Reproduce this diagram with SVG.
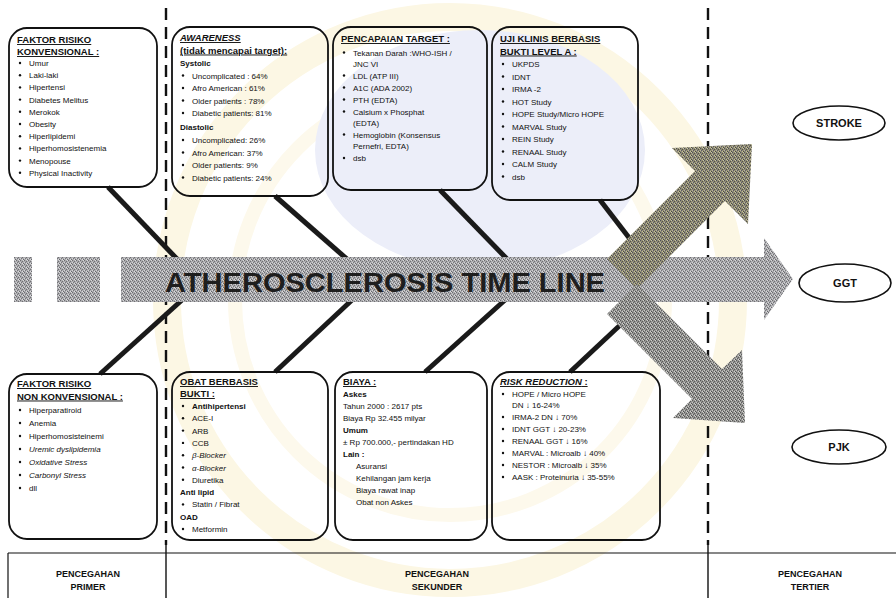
<svg xmlns="http://www.w3.org/2000/svg" width="896" height="598" viewBox="0 0 896 598">
<defs>
<style>
.t{font-family:"Liberation Sans",Arial,sans-serif;font-size:8px;fill:#111}
.h{font-family:"Liberation Sans",Arial,sans-serif;font-size:9.5px;font-weight:bold;fill:#111;text-decoration:underline}
.b{font-weight:bold}
.i{font-style:italic}
.box{fill:none;stroke:#111;stroke-width:1.8}
.fb{stroke:#1a1a1a;stroke-width:5;stroke-linecap:butt}
.dash{stroke:#111;stroke-width:2.4;stroke-dasharray:12 7}
.ell{fill:#fff;stroke:#111;stroke-width:1.6}
.et{font-family:"Liberation Sans",Arial,sans-serif;font-size:11px;font-weight:bold;fill:#111;text-anchor:middle}
.ft{font-family:"Liberation Sans",Arial,sans-serif;font-size:9px;font-weight:bold;fill:#111;text-anchor:middle}
</style>
<pattern id="dg" width="4" height="4" patternUnits="userSpaceOnUse">
<rect width="4" height="4" fill="#ababae"/>
<rect x="0" y="0" width="1" height="1" fill="#6c6c70"/>
<rect x="2" y="1" width="1" height="1" fill="#707074"/>
<rect x="1" y="2" width="1" height="1" fill="#76767a"/>
<rect x="3" y="3" width="1" height="1" fill="#6a6a6e"/>
<rect x="2" y="3" width="1" height="1" fill="#dcdcde"/>
<rect x="0" y="2" width="1" height="1" fill="#d4d4d6"/>
<rect x="3" y="0" width="1" height="1" fill="#d8d8da"/>
</pattern>
<pattern id="du" width="4" height="4" patternUnits="userSpaceOnUse">
<rect width="4" height="4" fill="#8e8b74"/>
<rect x="0" y="0" width="1" height="1" fill="#4e4e5a"/>
<rect x="2" y="1" width="1" height="1" fill="#545048"/>
<rect x="1" y="2" width="1" height="1" fill="#5a586a"/>
<rect x="3" y="3" width="1" height="1" fill="#4a4a44"/>
<rect x="2" y="3" width="1" height="1" fill="#c4bf98"/>
<rect x="0" y="2" width="1" height="1" fill="#bcb796"/>
<rect x="3" y="0" width="1" height="1" fill="#c8c4a4"/>
</pattern>
<pattern id="dd" width="4" height="4" patternUnits="userSpaceOnUse">
<rect width="4" height="4" fill="#959593"/>
<rect x="0" y="0" width="1" height="1" fill="#555555"/>
<rect x="2" y="1" width="1" height="1" fill="#5c5c5a"/>
<rect x="1" y="2" width="1" height="1" fill="#606060"/>
<rect x="3" y="3" width="1" height="1" fill="#525252"/>
<rect x="2" y="3" width="1" height="1" fill="#cfcfcc"/>
<rect x="0" y="2" width="1" height="1" fill="#c8c8c4"/>
<rect x="3" y="0" width="1" height="1" fill="#d0d0cc"/>
</pattern>
</defs>
<rect width="896" height="598" fill="#fff"/>
<g id="watermark">
<circle cx="450" cy="300" r="283" fill="none" stroke="#fcf7e4" stroke-width="28"/>
<circle cx="450" cy="300" r="215" fill="none" stroke="#fdf9ec" stroke-width="14"/>
<ellipse cx="480" cy="150" rx="165" ry="120" fill="#eceef9"/>
</g>
<g id="dividers">
<line class="dash" x1="166" y1="8" x2="166" y2="545"/>
<line class="dash" x1="708" y1="8" x2="708" y2="545"/>
</g>
<g id="connectors">
<line class="fb" x1="108" y1="187" x2="178" y2="260"/>
<line class="fb" x1="275" y1="196" x2="348" y2="260"/>
<line class="fb" x1="440" y1="190" x2="508" y2="260"/>
<line class="fb" x1="600" y1="200" x2="640" y2="252"/>
<line class="fb" x1="100" y1="374" x2="182" y2="300"/>
<line class="fb" x1="275" y1="372" x2="352" y2="300"/>
<line class="fb" x1="425" y1="372" x2="505" y2="300"/>
<line class="fb" x1="570" y1="372" x2="632" y2="314"/>
</g>
<g id="timeline">
<rect x="14" y="257" width="18" height="45" fill="url(#dg)"/>
<rect x="57" y="257" width="43" height="45" fill="url(#dg)"/>
<polygon points="121,257 764,257 764,238 793,279 764,320 764,302 121,302" fill="url(#dg)"/>
<text x="165" y="292" font-family="'Liberation Sans',Arial,sans-serif" font-size="27" font-weight="bold" fill="#1e1e1e" textLength="440" lengthAdjust="spacingAndGlyphs">ATHEROSCLEROSIS TIME LINE</text>
<polygon points="607,259 695,171 672,148 752,144 748,224 725,201 637,289" fill="url(#du)"/>
<polygon points="637,284 722,369 742,350 745,423 673,418 692,399 607,314" fill="url(#dd)"/>
</g>
<g id="box-faktor-konv">
<rect class="box" x="9" y="28" width="148" height="159" rx="18"/>
<text class="h" x="17" y="43">FAKTOR RISIKO</text>
<text class="h" x="17" y="55">KONVENSIONAL :</text>
<g class="t">
<circle cx="20" cy="63" r="1.2"/><text x="29" y="66">Umur</text>
<circle cx="20" cy="75.2" r="1.2"/><text x="29" y="78.2">Laki-laki</text>
<circle cx="20" cy="87.4" r="1.2"/><text x="29" y="90.4">Hipertensi</text>
<circle cx="20" cy="99.6" r="1.2"/><text x="29" y="102.6">Diabetes Melitus</text>
<circle cx="20" cy="111.8" r="1.2"/><text x="29" y="114.8">Merokok</text>
<circle cx="20" cy="124" r="1.2"/><text x="29" y="127">Obesity</text>
<circle cx="20" cy="136.2" r="1.2"/><text x="29" y="139.2">Hiperlipidemi</text>
<circle cx="20" cy="148.4" r="1.2"/><text x="29" y="151.4">Hiperhomosistenemia</text>
<circle cx="20" cy="160.6" r="1.2"/><text x="29" y="163.6">Menopouse</text>
<circle cx="20" cy="172.8" r="1.2"/><text x="29" y="175.8">Physical Inactivity</text>
</g>
</g>
<g id="box-awareness">
<rect class="box" x="172" y="27" width="156" height="169" rx="18"/>
<text class="h i" x="180" y="41">AWARENESS</text>
<text class="h" x="180" y="53.5">(tidak mencapai target):</text>
<text class="t b" x="180" y="66" font-size="9.5">Systolic</text>
<g class="t">
<circle cx="183" cy="75.5" r="1.2"/><text x="192" y="78.5">Uncomplicated : 64%</text>
<circle cx="183" cy="88" r="1.2"/><text x="192" y="91">Afro American : 61%</text>
<circle cx="183" cy="100.5" r="1.2"/><text x="192" y="103.5">Older patients : 78%</text>
<circle cx="183" cy="113" r="1.2"/><text x="192" y="116">Diabetic patients: 81%</text>
</g>
<text class="t b" x="180" y="130" font-size="9.5">Diastolic</text>
<g class="t">
<circle cx="183" cy="140" r="1.2"/><text x="192" y="143">Uncomplicated: 26%</text>
<circle cx="183" cy="152.5" r="1.2"/><text x="192" y="155.5">Afro American: 37%</text>
<circle cx="183" cy="165" r="1.2"/><text x="192" y="168">Older patients: 9%</text>
<circle cx="183" cy="177.5" r="1.2"/><text x="192" y="180.5">Diabetic patients: 24%</text>
</g>
</g>
<g id="box-pencapaian">
<rect class="box" x="333" y="27" width="154" height="163" rx="18"/>
<text class="h" x="341" y="42">PENCAPAIAN TARGET :</text>
<g class="t">
<circle cx="344" cy="52.5" r="1.2"/><text x="353" y="55.5">Tekanan Darah :WHO-ISH /</text>
<text x="353" y="66.5">JNC VI</text>
<circle cx="344" cy="75.5" r="1.2"/><text x="353" y="78.5">LDL (ATP III)</text>
<circle cx="344" cy="87.5" r="1.2"/><text x="353" y="90.5">A1C (ADA 2002)</text>
<circle cx="344" cy="99.5" r="1.2"/><text x="353" y="102.5">PTH (EDTA)</text>
<circle cx="344" cy="111.5" r="1.2"/><text x="353" y="114.5">Calsium x Phosphat</text>
<text x="353" y="125.5">(EDTA)</text>
<circle cx="344" cy="134.5" r="1.2"/><text x="353" y="137.5">Hemoglobin (Konsensus</text>
<text x="353" y="148.5">Pernefri, EDTA)</text>
<circle cx="344" cy="158" r="1.2"/><text x="353" y="161">dsb</text>
</g>
</g>
<g id="box-uji-klinis">
<rect class="box" x="492" y="27" width="146" height="173" rx="18"/>
<text class="h" x="500" y="42">UJI KLINIS BERBASIS</text>
<text class="h" x="500" y="54.5">BUKTI LEVEL A :</text>
<g class="t">
<circle cx="503" cy="64" r="1.2"/><text x="512" y="67">UKPDS</text>
<circle cx="503" cy="76.5" r="1.2"/><text x="512" y="79.5">IDNT</text>
<circle cx="503" cy="89" r="1.2"/><text x="512" y="92">IRMA -2</text>
<circle cx="503" cy="101.5" r="1.2"/><text x="512" y="104.5">HOT Study</text>
<circle cx="503" cy="114" r="1.2"/><text x="512" y="117">HOPE Study/Micro HOPE</text>
<circle cx="503" cy="126.5" r="1.2"/><text x="512" y="129.5">MARVAL Study</text>
<circle cx="503" cy="139" r="1.2"/><text x="512" y="142">REIN Study</text>
<circle cx="503" cy="151.5" r="1.2"/><text x="512" y="154.5">RENAAL Study</text>
<circle cx="503" cy="164" r="1.2"/><text x="512" y="167">CALM Study</text>
<circle cx="503" cy="176.5" r="1.2"/><text x="512" y="179.5">dsb</text>
</g>
</g>
<g id="box-faktor-nonkonv">
<rect class="box" x="9" y="374" width="148" height="165" rx="18"/>
<text class="h" x="17" y="387">FAKTOR RISIKO</text>
<text class="h" x="17" y="399.5">NON KONVENSIONAL :</text>
<g class="t">
<circle cx="20" cy="410" r="1.2"/><text x="29" y="413">Hiperparatiroid</text>
<circle cx="20" cy="423" r="1.2"/><text x="29" y="426">Anemia</text>
<circle cx="20" cy="436" r="1.2"/><text x="29" y="439">Hiperhomosisteinemi</text>
<circle cx="20" cy="449" r="1.2"/><text x="29" y="452" class="i">Uremic dyslipidemia</text>
<circle cx="20" cy="462" r="1.2"/><text x="29" y="465" class="i">Oxidative Stress</text>
<circle cx="20" cy="475" r="1.2"/><text x="29" y="478" class="i">Carbonyl Stress</text>
<circle cx="20" cy="488" r="1.2"/><text x="29" y="491">dll</text>
</g>
</g>
<g id="box-obat">
<rect class="box" x="172" y="372" width="156" height="168" rx="18"/>
<text class="h" x="180" y="385">OBAT BERBASIS</text>
<text class="h" x="180" y="397">BUKTI :</text>
<g class="t">
<circle cx="183" cy="406" r="1.2"/><text x="192" y="409" class="b">Antihipertensi</text>
<circle cx="183" cy="418.3" r="1.2"/><text x="192" y="421.3">ACE-I</text>
<circle cx="183" cy="430.6" r="1.2"/><text x="192" y="433.6">ARB</text>
<circle cx="183" cy="442.9" r="1.2"/><text x="192" y="445.9">CCB</text>
<circle cx="183" cy="455.2" r="1.2"/><text x="192" y="458.2" class="i">β-Blocker</text>
<circle cx="183" cy="467.5" r="1.2"/><text x="192" y="470.5" class="i">α-Blocker</text>
<circle cx="183" cy="479.8" r="1.2"/><text x="192" y="482.8">Diuretika</text>
<text x="180" y="495" class="b">Anti lipid</text>
<circle cx="183" cy="504.4" r="1.2"/><text x="192" y="507.4">Statin / Fibrat</text>
<text x="180" y="519.7" class="b">OAD</text>
<circle cx="183" cy="529" r="1.2"/><text x="192" y="532">Metformin</text>
</g>
</g>
<g id="box-biaya">
<rect class="box" x="335" y="372" width="152" height="168" rx="18"/>
<text class="h" x="343" y="385">BIAYA :</text>
<g class="t">
<text x="343" y="397" class="b">Askes</text>
<text x="343" y="409">Tahun 2000 : 2617 pts</text>
<text x="343" y="421">Biaya Rp 32.455 milyar</text>
<text x="343" y="433" class="b">Umum</text>
<text x="343" y="445">± Rp 700.000,- pertindakan HD</text>
<text x="343" y="457" class="b">Lain :</text>
<text x="356" y="469">Asuransi</text>
<text x="356" y="481">Kehilangan jam kerja</text>
<text x="356" y="493">Biaya rawat inap</text>
<text x="356" y="505">Obat non Askes</text>
</g>
</g>
<g id="box-risk">
<rect class="box" x="492" y="372" width="168" height="168" rx="18"/>
<text class="h" x="500" y="385"><tspan class="i">RISK REDUCTION</tspan> :</text>
<g class="t">
<circle cx="503" cy="394" r="1.2"/><text x="512" y="397">HOPE / Micro HOPE</text>
<text x="512" y="408">DN ↓ 16-24%</text>
<circle cx="503" cy="417" r="1.2"/><text x="512" y="420">IRMA-2  DN ↓ 70%</text>
<circle cx="503" cy="429" r="1.2"/><text x="512" y="432">IDNT  GGT ↓ 20-23%</text>
<circle cx="503" cy="441" r="1.2"/><text x="512" y="444">RENAAL  GGT ↓ 16%</text>
<circle cx="503" cy="453" r="1.2"/><text x="512" y="456">MARVAL : Microalb ↓ 40%</text>
<circle cx="503" cy="465" r="1.2"/><text x="512" y="468">NESTOR : Microalb ↓ 35%</text>
<circle cx="503" cy="477" r="1.2"/><text x="512" y="480">AASK : Proteinuria ↓ 35-55%</text>
</g>
</g>
<g id="stroke">
<ellipse class="ell" cx="839" cy="123" rx="46" ry="17"/>
<text class="et" x="839" y="127">STROKE</text>
</g>
<g id="ggt">
<ellipse class="ell" cx="845" cy="283" rx="46" ry="19"/>
<text class="et" x="845" y="287">GGT</text>
</g>
<g id="pjk">
<ellipse class="ell" cx="839" cy="447" rx="47" ry="17"/>
<text class="et" x="839" y="451">PJK</text>
</g>
<g id="footer">
<line x1="8" y1="553" x2="896" y2="553" stroke="#111" stroke-width="1.2"/>
<line x1="8" y1="553" x2="8" y2="598" stroke="#111" stroke-width="1.2"/>
<line x1="166" y1="545" x2="166" y2="598" stroke="#111" stroke-width="1.4"/>
<line x1="708" y1="545" x2="708" y2="598" stroke="#111" stroke-width="1.4"/>
<text class="ft" x="88" y="577">PENCEGAHAN</text>
<text class="ft" x="88" y="590">PRIMER</text>
<text class="ft" x="437" y="577">PENCEGAHAN</text>
<text class="ft" x="437" y="590">SEKUNDER</text>
<text class="ft" x="810" y="577">PENCEGAHAN</text>
<text class="ft" x="810" y="590">TERTIER</text>
</g>
</svg>
